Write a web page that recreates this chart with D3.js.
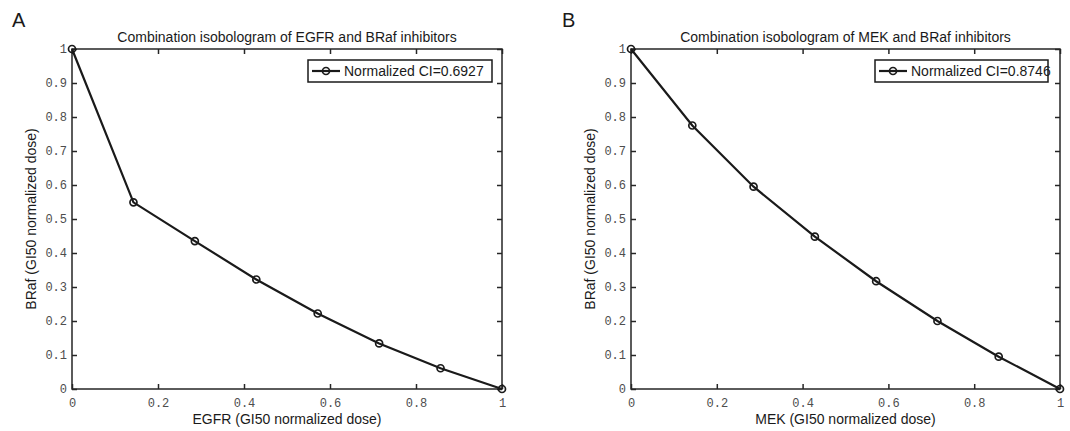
<!DOCTYPE html>
<html>
<head>
<meta charset="utf-8">
<script src="https://cdn.jsdelivr.net/npm/d3@7"></script>
<style>
  body { margin: 0; background: #fff; }
  text { font-family: "Liberation Sans", Arial, sans-serif; }
</style>
</head>
<body>
<div id="plot"></div>
<script>
// doses (GI50 normalized)
var doseX = [0, 0.1429, 0.2857, 0.4286, 0.5714, 0.7143, 0.8571, 1];
var egfrBraf = [1, 0.549, 0.435, 0.322, 0.222, 0.134, 0.061, 0];
var mekBraf = [1, 0.775, 0.595, 0.448, 0.317, 0.200, 0.095, 0];

var xTicks = [0, 0.2, 0.4, 0.6, 0.8, 1];
var yTicks = [0, 0.1, 0.2, 0.3, 0.4, 0.5, 0.6, 0.7, 0.8, 0.9, 1];

var panels = [
  { letter: "A", title: "Combination isobologram of EGFR and BRaf inhibitors",
    xlabel: "EGFR (GI50 normalized dose)", legend: "Normalized CI=0.6927", values: egfrBraf },
  { letter: "B", title: "Combination isobologram of MEK and BRaf inhibitors",
    xlabel: "MEK (GI50 normalized dose)", legend: "Normalized CI=0.8746", values: mekBraf }
];

// layout of each panel (plot area, legend box)
var layout = [
  { left: 72, width: 430, legendX: 308, legendW: 184, letterX: 12 },
  { left: 631, width: 429, legendX: 875, legendW: 173, letterX: 562 }
];
var plotTop = 49, plotHeight = 340;
var axisColor = "#262626";

var svg = d3.select("#plot")
  .append("svg")
  .attr("width", 1070)
  .attr("height", 431);

function fmt(d) { return d == 0 || d == 1 ? String(d) : d3.format(".1f")(d); }

function drawPanel(p, l) {
  var height = plotHeight;
  var g = svg.append("g")
    .attr("transform", "translate(" + l.left + "," + plotTop + ")");

  var x = d3.scaleLinear().domain([0, 1]).range([0, l.width]);
  var y = d3.scaleLinear().domain([0, 1]).range([height, 0]);

  // ---- axes (ticks point inward, MATLAB style) ----
  g.append("g")
    .attr("transform", "translate(0," + height + ")")
    .call(d3.axisBottom(x).tickValues(xTicks).tickFormat(fmt).tickSize(-5).tickSizeOuter(0).tickPadding(9));
  g.append("g")
    .call(d3.axisLeft(y).tickValues(yTicks).tickFormat(fmt).tickSize(-5).tickSizeOuter(0).tickPadding(5));
  g.append("g")
    .call(d3.axisTop(x).tickValues(xTicks).tickFormat("").tickSize(-5).tickSizeOuter(0));
  g.append("g")
    .attr("transform", "translate(" + l.width + ",0)")
    .call(d3.axisRight(y).tickValues(yTicks).tickFormat("").tickSize(-5).tickSizeOuter(0));

  g.selectAll(".domain").remove();
  g.selectAll(".tick line").attr("stroke", axisColor).attr("stroke-width", 1.5);
  g.selectAll(".tick text")
    .style("font-family", "'Liberation Mono', 'Courier New', monospace")
    .style("font-size", "12px")
    .attr("fill", "#4d4d4d");

  // box
  g.append("rect")
    .attr("width", l.width)
    .attr("height", height)
    .attr("fill", "none")
    .attr("stroke", axisColor)
    .attr("stroke-width", 1.5);

  // ---- line + markers ----
  var pts = doseX.map(function(d, i) { return [d, p.values[i]]; });
  g.append("path")
    .datum(pts)
    .attr("fill", "none")
    .attr("stroke", "#1a1a1a")
    .attr("stroke-width", 2.2)
    .attr("d", d3.line().x(function(d) { return x(d[0]); }).y(function(d) { return y(d[1]); }));

  g.selectAll("circle.pt")
    .data(pts)
    .enter()
    .append("circle")
    .attr("class", "pt")
    .attr("cx", function(d) { return x(d[0]); })
    .attr("cy", function(d) { return y(d[1]); })
    .attr("r", 3.5)
    .attr("fill", "none")
    .attr("stroke", "#1a1a1a")
    .attr("stroke-width", 1.7);

  // ---- texts ----
  g.append("text")
    .attr("x", l.width / 2)
    .attr("y", -7)
    .attr("text-anchor", "middle")
    .style("font-size", "14px")
    .attr("fill", "#1a1a1a")
    .text(p.title);

  g.append("text")
    .attr("x", l.width / 2)
    .attr("y", height + 35)
    .attr("text-anchor", "middle")
    .style("font-size", "14px")
    .attr("fill", "#1a1a1a")
    .text(p.xlabel);

  g.append("text")
    .attr("transform", "translate(-36," + (height / 2) + ") rotate(-90)")
    .attr("text-anchor", "middle")
    .style("font-size", "14px")
    .attr("fill", "#1a1a1a")
    .text("BRaf (GI50 normalized dose)");

  svg.append("text")
    .attr("x", l.letterX)
    .attr("y", 27)
    .style("font-size", "20px")
    .attr("fill", "#1a1a1a")
    .text(p.letter);

  // ---- legend ----
  var lg = svg.append("g").attr("transform", "translate(" + l.legendX + ",60)");
  lg.append("rect")
    .attr("width", l.legendW)
    .attr("height", 22)
    .attr("fill", "#fff")
    .attr("stroke", "#1a1a1a")
    .attr("stroke-width", 1.5);
  lg.append("line")
    .attr("x1", 4).attr("x2", 32)
    .attr("y1", 11).attr("y2", 11)
    .attr("stroke", "#1a1a1a")
    .attr("stroke-width", 2.2);
  lg.append("circle")
    .attr("cx", 18).attr("cy", 11).attr("r", 3.5)
    .attr("fill", "none")
    .attr("stroke", "#1a1a1a")
    .attr("stroke-width", 1.7);
  lg.append("text")
    .attr("x", 36)
    .attr("y", 16)
    .style("font-size", "14px")
    .attr("fill", "#1a1a1a")
    .text(p.legend);
}

panels.forEach(function(p, i) { drawPanel(p, layout[i]); });
</script>
</body>
</html>
